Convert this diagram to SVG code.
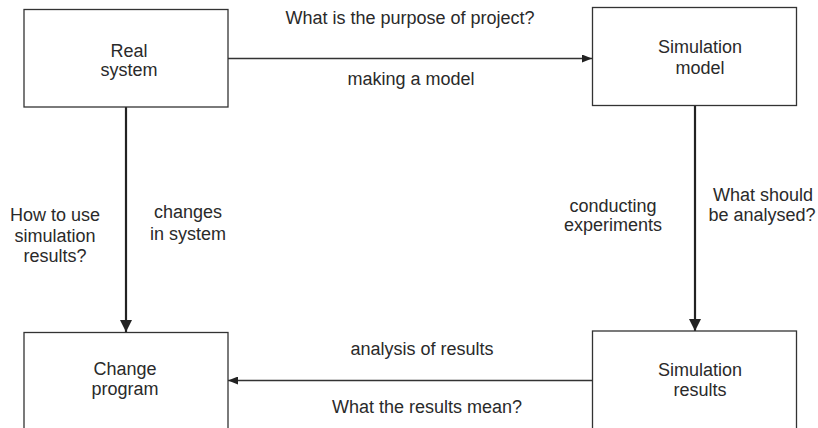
<svg xmlns="http://www.w3.org/2000/svg" width="818" height="428" viewBox="0 0 818 428">
<style>
.box{fill:#fff;stroke:#333;stroke-width:1.3}
.t{font-family:"Liberation Sans",Arial,sans-serif;font-size:18px;fill:#2a2a2a;text-anchor:middle}
.h{stroke:#333;stroke-width:1.3;fill:none}
.v{stroke:#222;stroke-width:2.2;fill:none}
</style>
<defs>
<marker id="ah" viewBox="0 0 10 8" refX="10" refY="4" markerWidth="10" markerHeight="8" markerUnits="userSpaceOnUse" orient="auto">
<path d="M0,0 L10,4 L0,8 Z" fill="#222"/>
</marker>
<marker id="av" viewBox="0 0 12 12" refX="12" refY="6" markerWidth="12" markerHeight="12" markerUnits="userSpaceOnUse" orient="auto">
<path d="M0,0 L12,6 L0,12 Z" fill="#222"/>
</marker>
</defs>
<g id="connectors">
<line class="h" x1="228" y1="58.5" x2="592" y2="58.5" marker-end="url(#ah)"/>
<line class="h" x1="592" y1="380.5" x2="228" y2="380.5" marker-end="url(#ah)"/>
<line class="v" x1="126" y1="107" x2="126" y2="332" marker-end="url(#av)"/>
<line class="v" x1="695" y1="106" x2="695" y2="331" marker-end="url(#av)"/>
<text class="t" x="410" y="24">What is the purpose of project?</text>
<text class="t" x="411" y="85">making a model</text>
<text class="t" x="422" y="355">analysis of results</text>
<text class="t" x="427" y="413">What the results mean?</text>
<text class="t" x="55" y="221">How to use</text>
<text class="t" x="55" y="242">simulation</text>
<text class="t" x="55" y="262">results?</text>
<text class="t" x="188" y="218">changes</text>
<text class="t" x="188" y="240">in system</text>
<text class="t" x="613" y="212">conducting</text>
<text class="t" x="613" y="231">experiments</text>
<text class="t" x="763" y="201">What should</text>
<text class="t" x="762" y="221">be analysed?</text>
</g>
<g id="real-system">
<rect class="box" x="24" y="9.5" width="204" height="97.5"/>
<text class="t" x="129" y="57">Real</text>
<text class="t" x="129" y="76">system</text>
</g>
<g id="simulation-model">
<rect class="box" x="592.5" y="7.5" width="204" height="98"/>
<text class="t" x="700" y="53">Simulation</text>
<text class="t" x="700" y="74">model</text>
</g>
<g id="change-program">
<rect class="box" x="24" y="332.5" width="204" height="110"/>
<text class="t" x="125" y="375">Change</text>
<text class="t" x="125" y="395">program</text>
</g>
<g id="simulation-results">
<rect class="box" x="592.5" y="331" width="204" height="110"/>
<text class="t" x="700" y="376">Simulation</text>
<text class="t" x="700" y="396">results</text>
</g>
</svg>
